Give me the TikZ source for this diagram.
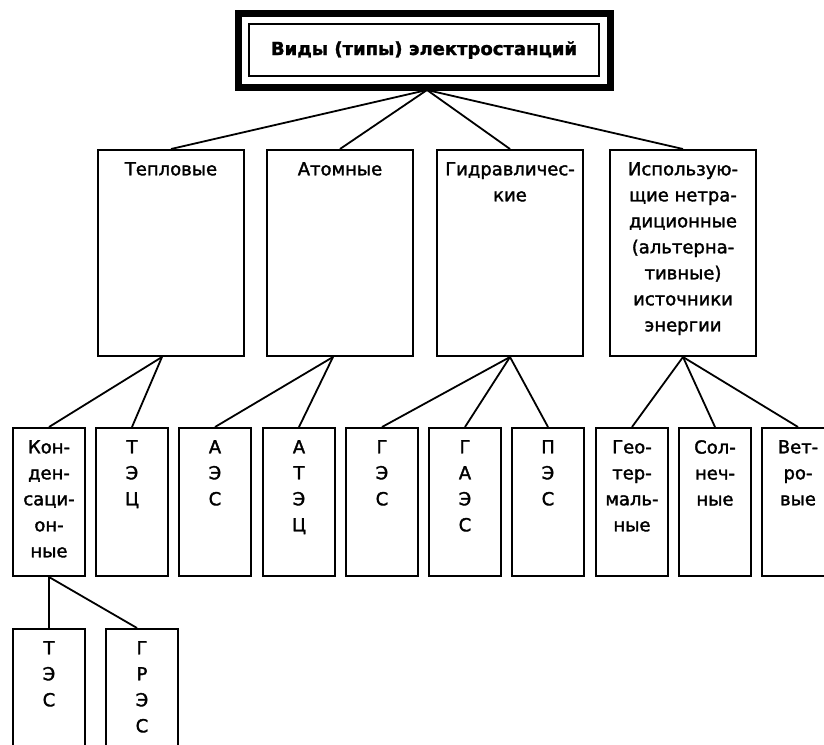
\documentclass[tikz,border=0pt]{standalone}
\usepackage{fontspec}
\setmainfont{DejaVu Sans}
\newfontfamily\boxfont[FakeBold=1.8]{DejaVu Sans}
\newfontfamily\titlefont[BoldFeatures={FakeBold=1.5}]{DejaVu Sans}
\usepackage{tikz}

\tikzset{
  titlebox/.style={draw,line width=2pt,minimum width=350pt,minimum height=52pt,font=\titlefont\fontsize{18}{20}\selectfont\bfseries},
  bigbox/.style={draw,line width=2pt,minimum width=146pt,minimum height=206pt,anchor=north,inner sep=0pt},
  smallbox/.style={draw,line width=2pt,minimum width=72pt,minimum height=148pt,anchor=north,inner sep=0pt},
  boxtext/.style={anchor=north,align=center,inner sep=0pt,font=\boxfont\fontsize{18}{26}\selectfont},
  link/.style={line width=1.8pt}
}

\begin{document}
\begin{tikzpicture}[x=1pt,y=-1pt]
                    \useasboundingbox (0,0) rectangle (824,744);
                    \clip (0,0) rectangle (824,744);

                    \node[titlebox] (title) at (424,50) {Виды (типы) электростанций};
                    \draw[line width=7pt] ([xshift=-10pt,yshift=10pt]title.north west) rectangle ([xshift=10pt,yshift=-10pt]title.south east);
                    \coordinate (hub) at (427,90);

                    \node[bigbox] (tep) at (171,149) {};
                    \node[bigbox] (atom) at (340,149) {};
                    \node[bigbox] (gidr) at (510,149) {};
                    \node[bigbox] (isp) at (683,149) {};
                    \node[boxtext] (tep-t) at ([yshift=-13pt]tep.north) {Тепловые};
                    \node[boxtext] (atom-t) at ([yshift=-13pt]atom.north) {Атомные};
                    \node[boxtext] (gidr-t) at ([yshift=-13pt]gidr.north) {Гидравличес-\\кие};
                    \node[boxtext] (isp-t) at ([yshift=-13pt]isp.north) {Использую-\\щие нетра-\\диционные\\(альтерна-\\тивные)\\источники\\энергии};

                    \node[smallbox] (kond) at (49,427) {};
                    \node[smallbox] (tec) at (132,427) {};
                    \node[smallbox] (aes) at (215,427) {};
                    \node[smallbox] (atec) at (299,427) {};
                    \node[smallbox] (ges) at (382,427) {};
                    \node[smallbox] (gaes) at (465,427) {};
                    \node[smallbox] (pes) at (548,427) {};
                    \node[smallbox] (geo) at (632,427) {};
                    \node[smallbox] (sol) at (715,427) {};
                    \node[smallbox] (vet) at (798,427) {};
                    \node[boxtext] (kond-t) at ([yshift=-13pt]kond.north) {Кон-\\ден-\\саци-\\он-\\ные};
                    \node[boxtext] (tec-t) at ([yshift=-13pt]tec.north) {Т\\Э\\Ц};
                    \node[boxtext] (aes-t) at ([yshift=-13pt]aes.north) {А\\Э\\С};
                    \node[boxtext] (atec-t) at ([yshift=-13pt]atec.north) {А\\Т\\Э\\Ц};
                    \node[boxtext] (ges-t) at ([yshift=-13pt]ges.north) {Г\\Э\\С};
                    \node[boxtext] (gaes-t) at ([yshift=-13pt]gaes.north) {Г\\А\\Э\\С};
                    \node[boxtext] (pes-t) at ([yshift=-13pt]pes.north) {П\\Э\\С};
                    \node[boxtext] (geo-t) at ([yshift=-13pt]geo.north) {Гео-\\тер-\\маль-\\ные};
                    \node[boxtext] (sol-t) at ([yshift=-13pt]sol.north) {Сол-\\неч-\\ные};
                    \node[boxtext] (vet-t) at ([yshift=-13pt]vet.north) {Вет-\\ро-\\вые};

                    \node[smallbox] (tes) at (49,628) {};
                    \node[smallbox] (gres) at (142,628) {};
                    \node[boxtext] (tes-t) at ([yshift=-13pt]tes.north) {Т\\Э\\С};
                    \node[boxtext] (gres-t) at ([yshift=-13pt]gres.north) {Г\\Р\\Э\\С};

                    \draw[link] (hub) -- (tep.north);
                    \draw[link] (hub) -- (atom.north);
                    \draw[link] (hub) -- (gidr.north);
                    \draw[link] (hub) -- (isp.north);

                    \draw[link] ([xshift=-9pt]tep.south) -- (kond.north);
                    \draw[link] ([xshift=-9pt]tep.south) -- (tec.north);
                    \draw[link] ([xshift=-7pt]atom.south) -- (aes.north);
                    \draw[link] ([xshift=-7pt]atom.south) -- (atec.north);
                    \draw[link] (gidr.south) -- (ges.north);
                    \draw[link] (gidr.south) -- (gaes.north);
                    \draw[link] (gidr.south) -- (pes.north);
                    \draw[link] (isp.south) -- (geo.north);
                    \draw[link] (isp.south) -- (sol.north);
                    \draw[link] (isp.south) -- (vet.north);

                    \draw[link] (kond.south) -- (tes.north);
                    \draw[link] (kond.south) -- ([xshift=-5pt]gres.north);
                \end{tikzpicture}
\end{document}
